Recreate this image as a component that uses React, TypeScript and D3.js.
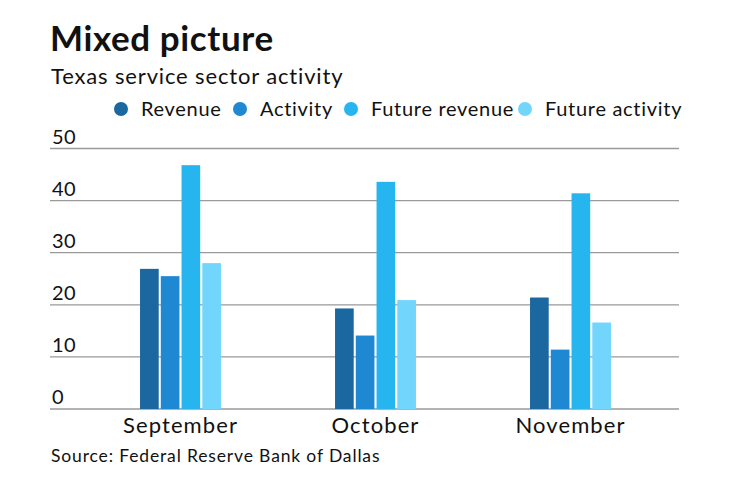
import * as d3 from 'd3';

const months = ['September', 'October', 'November'];
const seriesNames = ['Revenue', 'Activity', 'Future revenue', 'Future activity'];
const revenue = [26.9, 19.3, 21.4];
const activity = [25.5, 14.1, 11.4];
const futureRevenue = [46.8, 43.6, 41.4];
const futureActivity = [28.0, 20.9, 16.6];
const yTicks = [0, 10, 20, 30, 40, 50];

const colors = ['#1b67a0', '#1f88d2', '#27b5f0', '#72d5fc'];

const FONT = 'Lato, "Open Sans", sans-serif';

export default function App() {
  const width = 740;
  const height = 482;
  const gridLeft = 50;
  const gridRight = 679;

  const series = [revenue, activity, futureRevenue, futureActivity];

  const y = d3.scaleLinear().domain([0, 50]).range([409, 148.5]);

  const x0 = d3
    .scaleBand<string>()
    .domain(months)
    .range([83, 668])
    .paddingInner(0.585)
    .paddingOuter(0.2925);

  const x1 = d3
    .scaleBand<string>()
    .domain(seriesNames)
    .range([0, x0.bandwidth()])
    .paddingInner(0.1)
    .paddingOuter(0);

  // legend dot centres
  const legendX = [121, 240, 351, 525];

  return (
    <div style={{ position: 'fixed', left: 0, top: 0 }}>
      <svg width={width} height={height} style={{ display: 'block', background: '#fff' }}>
        <text x={50} y={51} fontFamily={FONT} fontWeight={700} fontSize={35} letterSpacing={0.6} fill="#111">
          Mixed picture
        </text>
        <text x={51} y={84} fontFamily={FONT} fontSize={22} letterSpacing={0.85} fill="#111">
          Texas service sector activity
        </text>

        {seriesNames.map((name, i) => (
          <g key={name} transform={`translate(${legendX[i]},109)`}>
            <circle r={7} fill={colors[i]} />
            <text x={20} y={7} fontFamily={FONT} fontSize={20} letterSpacing={0.7} fill="#111">
              {name}
            </text>
          </g>
        ))}

        {yTicks.map((t) => (
          <g key={t}>
            <line x1={gridLeft} x2={gridRight} y1={y(t)} y2={y(t)} stroke="#9a9a9a" strokeWidth={1.3} />
            <text x={52} y={y(t) - 5} fontFamily={FONT} fontSize={20} letterSpacing={0.5} fill="#111">
              {t}
            </text>
          </g>
        ))}

        {months.map((m, mi) => (
          <g key={m} transform={`translate(${x0(m)},0)`}>
            {seriesNames.map((s, si) => {
              const v = series[si][mi];
              return (
                <rect
                  key={s}
                  x={x1(s)}
                  y={y(v)}
                  width={x1.bandwidth()}
                  height={y(0) - y(v)}
                  fill={colors[si]}
                />
              );
            })}
            <text
              x={x0.bandwidth() / 2}
              y={433}
              textAnchor="middle"
              fontFamily={FONT}
              fontSize={22}
              letterSpacing={1.1}
              fill="#111"
            >
              {m}
            </text>
          </g>
        ))}

        <text x={51} y={462} fontFamily={FONT} fontSize={17.5} letterSpacing={0.85} fill="#111">
          Source: Federal Reserve Bank of Dallas
        </text>
      </svg>
    </div>
  );
}
